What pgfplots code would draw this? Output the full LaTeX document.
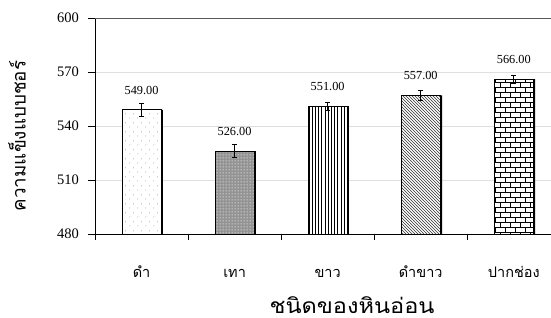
\documentclass[border=0pt]{standalone}
\usepackage{fontspec}
\setmainfont{Liberation Serif}
\newfontfamily\thai[Script=Thai]{Loma}
\usepackage{pgfplots}
\pgfplotsset{compat=1.18}
\usetikzlibrary{patterns}
\pgfdeclarepatternformonly{sdots}{\pgfpointorigin}{\pgfpoint{8pt}{9pt}}{\pgfpoint{8pt}{9pt}}{%
  \pgfpathcircle{\pgfpoint{2pt}{2.25pt}}{0.45pt}%
  \pgfpathcircle{\pgfpoint{6pt}{6.75pt}}{0.45pt}%
  \pgfusepath{fill}}
\pgfdeclarepatternformonly{wdots}{\pgfpointorigin}{\pgfpoint{2.6pt}{2.6pt}}{\pgfpoint{2.6pt}{2.6pt}}{%
  \pgfpathcircle{\pgfpoint{1.3pt}{1.3pt}}{0.6pt}%
  \pgfusepath{fill}}
\pgfdeclarepatternformonly{vlines}{\pgfpoint{0pt}{-0.5pt}}{\pgfpoint{3.2pt}{3.5pt}}{\pgfpoint{3.2pt}{3pt}}{%
  \pgfsetlinewidth{0.6pt}%
  \pgfpathmoveto{\pgfpoint{1.6pt}{-0.5pt}}\pgfpathlineto{\pgfpoint{1.6pt}{3.5pt}}%
  \pgfusepath{stroke}}
\pgfdeclarepatternformonly{nwlines}{\pgfpoint{-1pt}{-1pt}}{\pgfpoint{4pt}{4pt}}{\pgfpoint{3pt}{3pt}}{%
  \pgfsetlinewidth{0.45pt}%
  \pgfpathmoveto{\pgfpoint{0pt}{3pt}}\pgfpathlineto{\pgfpoint{3.1pt}{-0.1pt}}%
  \pgfusepath{stroke}}
\pgfdeclarepatternformonly{mybricks}{\pgfpoint{-0.5pt}{-0.5pt}}{\pgfpoint{10.5pt}{10.5pt}}{\pgfpoint{10pt}{10pt}}{%
  \pgfsetlinewidth{0.8pt}%
  \pgfpathmoveto{\pgfpoint{-0.5pt}{0pt}}\pgfpathlineto{\pgfpoint{10.5pt}{0pt}}%
  \pgfpathmoveto{\pgfpoint{-0.5pt}{5pt}}\pgfpathlineto{\pgfpoint{10.5pt}{5pt}}%
  \pgfpathmoveto{\pgfpoint{0pt}{0pt}}\pgfpathlineto{\pgfpoint{0pt}{5pt}}%
  \pgfpathmoveto{\pgfpoint{5pt}{5pt}}\pgfpathlineto{\pgfpoint{5pt}{10pt}}%
  \pgfusepath{stroke}}
\pgfplotsset{
  mainbar/.style={ybar, bar width=39pt, bar shift=0pt, draw=black, line width=0.8pt,
    error bars/.cd, y dir=both, y explicit, error bar style={line width=0.9pt, black},
    error mark options={rotate=90, black, line width=0.9pt, mark size=2.5pt},
    /pgfplots/.cd,
    nodes near coords,
    every node near coord/.append style={font=\fontsize{12.3}{14}\selectfont, anchor=south, yshift=15pt, inner sep=0pt,
      /pgf/number format/.cd, fixed, fixed zerofill, precision=2, assume math mode=true}},
}
\begin{document}
\begin{tikzpicture}[x=1pt,y=1pt]
\useasboundingbox (0,0) rectangle (551,317);
\fill[white] (0,0) rectangle (551,317);
\begin{axis}[at={(95pt,83pt)}, anchor=south west, scale only axis, width=456pt, height=216pt,
  xmin=-0.5, xmax=4.4, ymin=480, ymax=600, ytick={480,510,...,600},
  yticklabels={480,510,540,570,600},
  axis x line*=bottom, axis y line*=left,
  axis line style={line width=0.8pt, black},
  ymajorgrids, grid style={gray!25, line width=0.6pt},
  xtick={0,...,4}, xticklabels={ดำ,เทา,ขาว,ดำขาว,ปากช่อง},
  minor xtick={-0.5,0.5,...,3.5},
  tick align=outside, major tick length=7pt, minor tick length=6pt,
  major x tick style={draw=none},
  minor x tick style={black, line width=0.8pt},
  ytick style={black, line width=0.8pt},
  xticklabel style={font=\thai\fontsize{14.5}{16}\selectfont, anchor=base, yshift=-36pt},
  yticklabel style={font=\fontsize{14.5}{16}\selectfont, anchor=east, inner sep=0pt, xshift=-9pt},
  clip=false,
]
\addplot[ybar, bar width=39pt, bar shift=1.8pt, fill=black, draw=none] coordinates {(0,549) (1,526) (2,551) (3,557) (4,566)};
\addplot[mainbar, fill=white, postaction={pattern=sdots, pattern color=gray!80!black}] coordinates {(0,549) +- (0,3.7)};
\addplot[mainbar, fill=gray!85, postaction={pattern=wdots, pattern color=white!92!gray}] coordinates {(1,526) +- (0,3.7)};
\addplot[mainbar, fill=white, postaction={pattern=vlines, pattern color=black}] coordinates {(2,551) +- (0,2.3)};
\addplot[mainbar, fill=white, postaction={pattern=nwlines, pattern color=black!80}] coordinates {(3,557) +- (0,3)};
\addplot[mainbar, fill=white, postaction={pattern=mybricks, pattern color=black}] coordinates {(4,566) +- (0,2.2)};
\draw[gray!70!black, line width=0.8pt] (rel axis cs:0,1) -- (rel axis cs:1,1);
\end{axis}
\node[rotate=90, font=\thai\fontsize{18.8}{20}\selectfont] at (17,181) {ความแข็งแบบชอร์};
\node[anchor=base, xscale=1.12, transform shape, font=\thai\fontsize{21}{22}\selectfont] at (352,3.5) {ชนิดของหินอ่อน};
\end{tikzpicture}
\end{document}
